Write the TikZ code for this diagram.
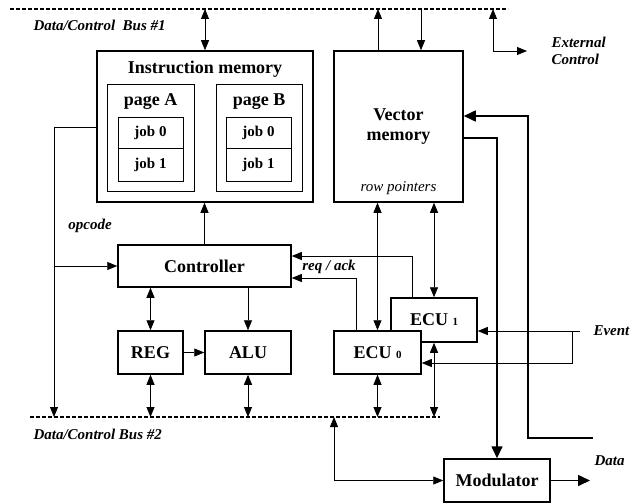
\documentclass[tikz,border=0pt]{standalone}
\usepackage{fontspec}
\setmainfont{Liberation Serif}
\usetikzlibrary{arrows.meta,calc}

\begin{document}
\begin{tikzpicture}[x=1pt,y=-1pt,
  big/.style={font=\fontsize{18}{20}\selectfont\bfseries},
  box/.style={draw,line width=1.5pt,fill=white,big,inner sep=0pt},
  sub/.style={draw,line width=0.8pt,inner sep=0pt},
  lbl/.style={font=\fontsize{15}{17}\selectfont\bfseries\itshape},
  bus/.style={line width=1.8pt,dash pattern=on 4pt off 2pt},
  con/.style={line width=0.8pt},
  thk/.style={line width=1.6pt},
  arr/.style={-{Triangle[length=10pt,width=8pt]}},
  darr/.style={{Triangle[length=10pt,width=8pt]}-{Triangle[length=10pt,width=8pt]}},
  tarr/.style={-{Triangle[length=12pt,width=11pt]}}]
\useasboundingbox (0,0) rectangle (636,503);
\coordinate (b1) at (0,9);
\coordinate (b2) at (0,417);

% buses
\draw[bus] (10,9) -- (508,9);
\draw[bus] (30,417) -- (440,417);
\node[lbl,anchor=west] (bus1) at (30,25) {Data/Control \ Bus \#1};
\node[lbl,anchor=west] (bus2) at (30,434) {Data/Control Bus \#2};

% instruction memory
\node[box,minimum width=216pt,minimum height=151pt] (imem) at (205,126.5) {};
\node[big] (imemt) at (205,69) {Instruction memory};
\node[sub,minimum width=87pt,minimum height=107pt] (pga) at (150.5,137.5) {};
\node[sub,minimum width=86pt,minimum height=107pt] (pgb) at (259,137.5) {};
\node[big] (pgat) at (150.5,102) {page A};
\node[big] (pgbt) at (259,102) {page B};
\node[sub,minimum width=65pt,minimum height=31pt,font=\fontsize{15}{17}\selectfont\bfseries] (ja0) at (150.5,132.5) {job 0};
\node[sub,minimum width=65pt,minimum height=33pt,font=\fontsize{15}{17}\selectfont\bfseries] (ja1) at (150.5,164.5) {job 1};
\node[sub,minimum width=65pt,minimum height=31pt,font=\fontsize{15}{17}\selectfont\bfseries] (jb0) at (258.5,132.5) {job 0};
\node[sub,minimum width=65pt,minimum height=33pt,font=\fontsize{15}{17}\selectfont\bfseries] (jb1) at (258.5,164.5) {job 1};

% vector memory
\node[box,minimum width=129pt,minimum height=151pt] (vmem) at (398.5,126.5) {};
\node[big,align=center] (vmemt) at (398.5,127) {Vector\\memory};
\node[font=\fontsize{15}{17}\selectfont\itshape] (rowp) at (398.5,188) {row pointers};

% blocks
\node[box,minimum width=173pt,minimum height=42pt] (ctrl) at (204.5,266) {Controller};
\node[box,minimum width=65pt,minimum height=43pt] (reg) at (150.5,352.5) {REG};
\node[box,minimum width=86pt,minimum height=43pt] (alu) at (248,352.5) {ALU};
\node[box,minimum width=86pt,minimum height=44pt] (ecu1) at (434,320) {ECU {\fontsize{11}{11}\selectfont 1}};
\node[box,minimum width=87pt,minimum height=43pt] (ecu0) at (377.5,352.5) {ECU {\fontsize{11}{11}\selectfont 0}};
\node[box,minimum width=106pt,minimum height=43pt] (mod) at (497,480.5) {Modulator};

% bus 1 links
\draw[con,darr] (imem.north |- b1) -- (imem.north);
\draw[con,arr] ($(vmem.north)+(-20.5,0)$) -- ($(vmem.north |- b1)+(-20.5,0)$);
\draw[con,arr] ($(vmem.north |- b1)+(22.5,0)$) -- ($(vmem.north)+(22.5,0)$);
\coordinate (exta) at (493,9);
\coordinate (extb) at (527,51);
\draw[con,darr] (exta) |- (extb);
\node[lbl,anchor=west,align=left] (ext) at (548,51) {External\\Control};

% opcode
\coordinate (op) at (54,127);
\draw[con,arr] (op -| imem.west) -- (op) -- (op |- b2);
\draw[con,arr] (op |- ctrl.west) -- (ctrl.west);
\node[lbl] (opc) at (90,226) {opcode};

% controller links
\draw[con,arr] (ctrl.north) -- (ctrl.north |- imem.south);
\draw[con,darr] (reg.north |- ctrl.south) -- (reg.north);
\draw[con,arr] (alu.north |- ctrl.south) -- (alu.north);
\draw[con,arr] (reg) -- (alu);
\draw[con,darr] (reg.south) -- (reg.south |- b2);
\draw[con,darr] (alu.south) -- (alu.south |- b2);

% ECU links
\draw[con,darr] (ecu0.north |- vmem.south) -- (ecu0.north);
\draw[con,darr] (ecu1.north |- vmem.south) -- (ecu1.north);
\draw[con,darr] (ecu0.south) -- (ecu0.south |- b2);
\draw[con,darr] (ecu1.south) -- (ecu1.south |- b2);
\coordinate (rq1) at (412,256);
\coordinate (rq0) at (356,278);
\draw[con,arr] (rq1 |- ecu1.north) -- (rq1) -- (rq1 -| ctrl.east);
\draw[con,arr] (rq0 |- ecu0.north) -- (rq0) -- (rq0 -| ctrl.east);
\node[lbl] (rqa) at (329,267) {req / ack};

% event
\coordinate (ev) at (580,331);
\coordinate (evb) at (572,363);
\draw[con,arr] (ev) -- (ev -| ecu1.east);
\draw[con,arr] (evb |- ev) -- (evb) -- (evb -| ecu0.east);
\node[lbl,anchor=west] (evt) at (590,331) {Event};

% vector memory data path
\coordinate (vin) at (593,438);
\coordinate (vr) at (528,116);
\coordinate (vo) at (497,138);
\draw[thk,tarr] (vin) -| (vr) -- (vr -| vmem.east);
\draw[thk,tarr] (vo -| vmem.east) -- (vo) -- (mod.north);
\coordinate (dat) at (590,480.5);
\draw[thk,tarr] (mod.east) -- (dat);
\node[lbl,anchor=west] (datt) at (591,461) {Data};
\coordinate (mb) at (334,417);
\draw[con,darr] (mb) |- (mod.west);
\end{tikzpicture}
\end{document}
